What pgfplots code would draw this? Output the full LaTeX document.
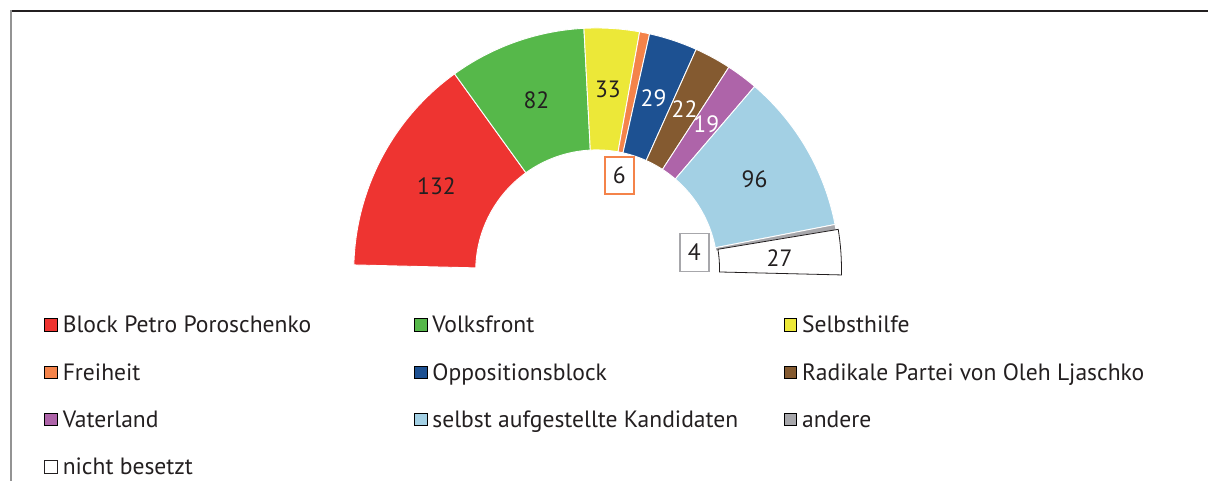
\documentclass[border=0pt]{standalone}
\usepackage{fontspec}
\setmainfont{PT Sans}
\usepackage{pgfplots}
\pgfplotsset{compat=1.18}
\usetikzlibrary{calc}
\definecolor{textdark}{HTML}{231F20}
\definecolor{cRed}{HTML}{EE3431}
\definecolor{cGreen}{HTML}{56B84A}
\definecolor{cYellow}{HTML}{ECE838}
\definecolor{cOrange}{HTML}{F4834A}
\definecolor{cBlue}{HTML}{1D5192}
\definecolor{cBrown}{HTML}{845A30}
\definecolor{cPurple}{HTML}{AE64A9}
\definecolor{cLight}{HTML}{A3D0E4}
\definecolor{cGrey}{HTML}{A7A7AB}
% #1 centre, #2 seats before, #3 seats, #4 colour, #5 extra style
\newcommand{\slice}[5]{%
  \path[fill=#4, draw=white, line width=0.9pt, #5]
    ($(#1)+({178.6-0.4*#2}:243pt)$)
    arc[start angle={178.6-0.4*#2}, delta angle={-0.4*#3}, radius=243pt]
    -- ($(#1)+({178.6-0.4*(#2+#3)}:121pt)$)
    arc[start angle={178.6-0.4*(#2+#3)}, delta angle={0.4*#3}, radius=121pt]
    -- cycle;}
\pgfplotsset{sq/.style={legend image code/.code={\path[##1] (0pt,-6.3pt) rectangle (12.6pt,6.3pt);}}}
\begin{document}
\begin{tikzpicture}[font=\fontsize{23.6}{28}\selectfont, text=textdark]
\begin{axis}[x=1pt, y=1pt, xmin=0, xmax=1209, ymin=0, ymax=481,
  hide axis, clip=false, disabledatascaling,
  legend columns=3, legend cell align=left,
  legend style={at={(axis cs:44,164)}, anchor=north west, draw=none, fill=none,
    inner sep=0pt, outer sep=0pt, row sep=31.3pt, column sep=0pt,
    font=\fontsize{23.6}{28}\selectfont,
    nodes={inner sep=0pt, outer sep=0pt, text height=16pt, text depth=0pt, text=textdark},
    /tikz/every odd column/.append style={column sep=5.4pt},
    /tikz/every even column/.append style={column sep=1.5pt}}]
\path (axis cs:0,0) rectangle (axis cs:1209,481);
\draw[textdark, line width=1.5pt] (axis cs:11,470) -- (axis cs:1209,470);
\draw[gray!85, line width=1.5pt] (axis cs:11,470.75) -- (axis cs:11,0);

\coordinate (C) at (axis cs:597,210);
\coordinate (W) at (axis cs:599,211.8);
\slice{C}{0}{132}{cRed}{}
\slice{C}{132}{82}{cGreen}{}
\slice{C}{214}{33}{cYellow}{}
\slice{C}{247}{6}{cOrange}{}
\slice{C}{253}{29}{cBlue}{}
\slice{C}{282}{22}{cBrown}{}
\slice{C}{304}{19}{cPurple}{}
\slice{C}{323}{96}{cLight}{}
\slice{C}{419}{4}{cGrey}{}
\slice{W}{423}{27}{white}{draw=textdark, line width=0.8pt}

\node at (axis cs:436.7,294.3) {132};
\node at (axis cs:536.7,381) {82};
\node at (axis cs:608.3,391.7) {33};
\node[text=white] at (axis cs:654,382.7) {29};
\node[text=white] at (axis cs:685,371.7) {22};
\node[text=white] at (axis cs:706.7,357) {19};
\node at (axis cs:755,301.7) {96};
\node at (axis cs:780,222.7) {27};
\node[draw=cOrange, line width=1.5pt, fill=white, minimum width=29pt, minimum height=37pt, inner sep=0pt] at (axis cs:619.7,305.2) {6};
\node[draw=cGrey, line width=1.5pt, fill=white, minimum width=29pt, minimum height=38pt, inner sep=0pt] at (axis cs:694.7,228.5) {4};

\addlegendimage{sq, fill=cRed}
\addlegendentry{\makebox[350pt][l]{Block Petro Poroschenko}}
\addlegendimage{sq, fill=cGreen}
\addlegendentry{\makebox[350pt][l]{Volksfront}}
\addlegendimage{sq, fill=cYellow}
\addlegendentry{\makebox[350pt][l]{Selbsthilfe}}
\addlegendimage{sq, fill=cOrange}
\addlegendentry{\makebox[350pt][l]{Freiheit}}
\addlegendimage{sq, fill=cBlue}
\addlegendentry{\makebox[350pt][l]{Oppositionsblock}}
\addlegendimage{sq, fill=cBrown}
\addlegendentry{\makebox[350pt][l]{Radikale Partei von Oleh Ljaschko}}
\addlegendimage{sq, fill=cPurple}
\addlegendentry{\makebox[350pt][l]{Vaterland}}
\addlegendimage{sq, fill=cLight}
\addlegendentry{\makebox[350pt][l]{selbst aufgestellte Kandidaten}}
\addlegendimage{sq, fill=cGrey}
\addlegendentry{\makebox[350pt][l]{andere}}
\addlegendimage{sq, fill=white, draw=textdark, line width=0.8pt}
\addlegendentry{\makebox[350pt][l]{nicht besetzt}}
\end{axis}
\end{tikzpicture}
\end{document}
